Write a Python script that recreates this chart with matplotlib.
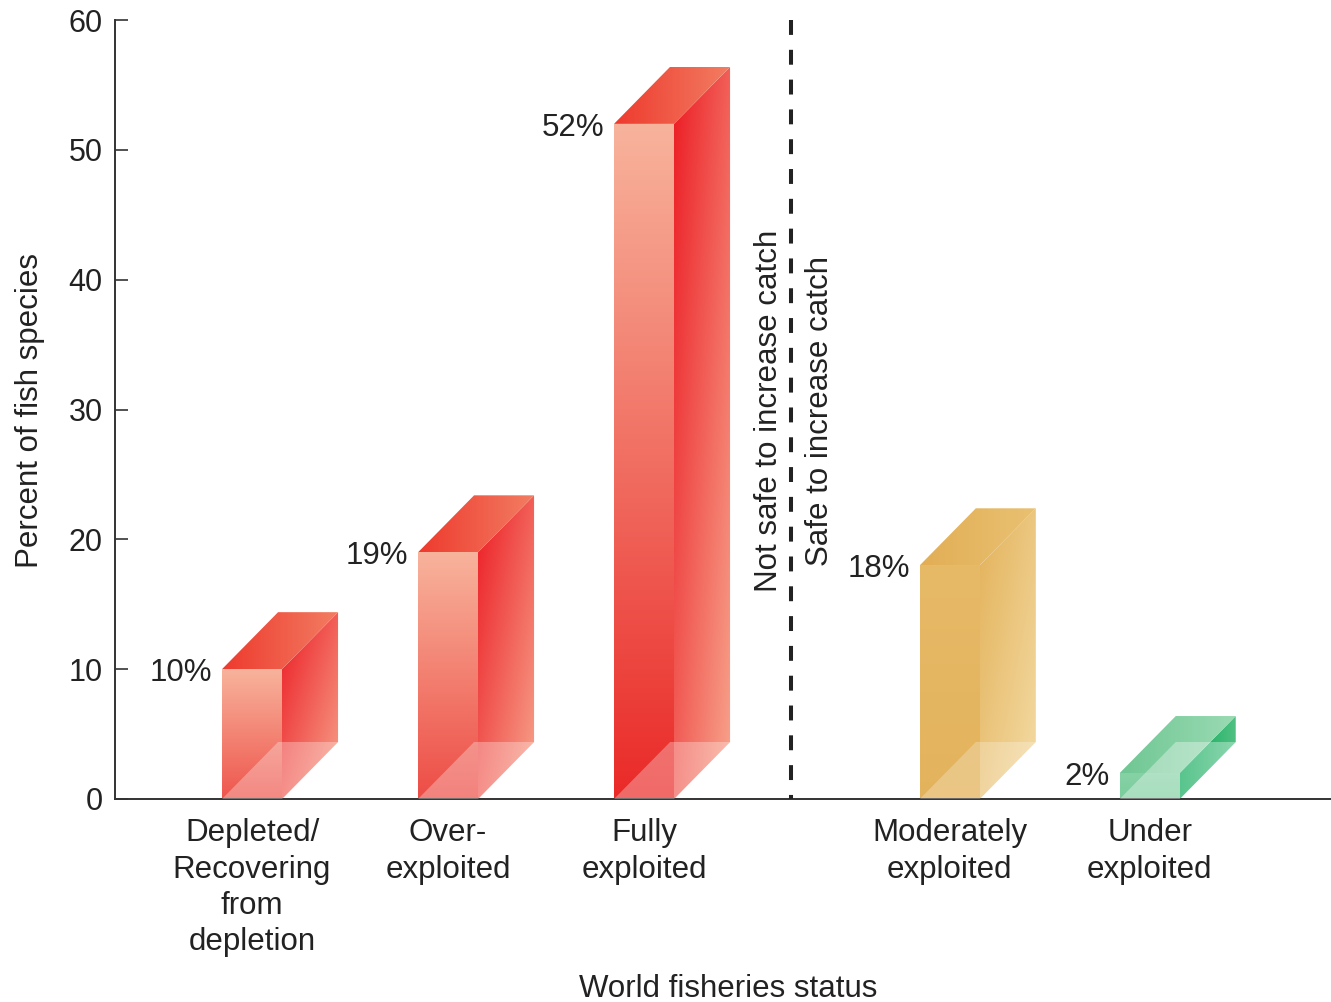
import numpy as np
import matplotlib
matplotlib.use("Agg")
import matplotlib.pyplot as plt
from matplotlib.patches import Polygon
from matplotlib.colors import to_rgb

# --- DATA ---
categories = ["Depleted/\nRecovering\nfrom\ndepletion", "Over-\nexploited", "Fully\nexploited",
              "Moderately\nexploited", "Under\nexploited"]
percents = [10, 19, 52, 18, 2]
value_labels = ["10%", "19%", "52%", "18%", "2%"]
groups = ["red", "red", "red", "yellow", "green"]

# --- LAYOUT ---
positions = [0.0, 1.0, 2.0, 3.56, 4.58]
divider_x = 2.75
bar_w = 0.306
depth_dx = 0.286
depth_dy = 4.39

# colour sets: front (top, bottom), side, top face, floor highlight alpha
palette = {
    "red": dict(front=("#F8B39C", "#EA2A28"), side=("#EC1C24", "#F7A58D"), side_mode="diagonal",
                top=("#EE3A2E", "#F27D62"), floor=0.3),
    "yellow": dict(front=("#E7BA68", "#E2B058"), side=("#E3B25A", "#F4DCA6"), side_mode="diagonal",
                   top=("#E2AE55", "#E9C172"), floor=0.25),
    "green": dict(front=("#86D2A6", "#72C995"), side=("#00A651", "#52C184"), side_mode="horizontal",
                  top=("#6FC793", "#9BDAB4"), floor=0.35),
}


def gradient_fill(ax, verts, c0, c1, mode):
    verts = np.array(verts)
    xmin, ymin = verts.min(axis=0)
    xmax, ymax = verts.max(axis=0)
    n = 100
    u, v = np.meshgrid(np.linspace(0, 1, n), np.linspace(0, 1, n))
    if mode == "vertical":      # c0 at top, c1 at bottom
        t = 1 - v
    elif mode == "diagonal":    # c0 top-left, c1 bottom-right
        t = (u + (1 - v)) / 2
    else:                       # horizontal, c0 left
        t = u
    a, b = np.array(to_rgb(c0)), np.array(to_rgb(c1))
    img = a[None, None, :] * (1 - t[..., None]) + b[None, None, :] * t[..., None]
    patch = Polygon(verts, closed=True, facecolor="none", edgecolor="none")
    ax.add_patch(patch)
    im = ax.imshow(img, extent=(xmin, xmax, ymin, ymax), origin="lower",
                   aspect="auto", interpolation="bilinear", zorder=2)
    im.set_clip_path(patch)


def mix(c0, c1, f):
    a, b = np.array(to_rgb(c0)), np.array(to_rgb(c1))
    return tuple(a * (1 - f) + b * f)


def draw_box(ax, xc, h, style, hmax):
    x0, x1 = xc - bar_w / 2, xc + bar_w / 2
    dx, dy = depth_dx, depth_dy
    front = [(x0, 0), (x1, 0), (x1, h), (x0, h)]
    side = [(x1, 0), (x1 + dx, dy), (x1 + dx, h + dy), (x1, h)]
    top = [(x0, h), (x1, h), (x1 + dx, h + dy), (x0 + dx, h + dy)]
    floor = [(x0, 0), (x1, 0), (x1 + dx, dy), (x0 + dx, dy)]
    ftop, fbot = style["front"]
    fbot = mix(ftop, fbot, 0.6 + 0.4 * h / hmax)
    gradient_fill(ax, front, ftop, fbot, "vertical")
    gradient_fill(ax, side, *style["side"], style["side_mode"])
    gradient_fill(ax, top, *style["top"], "horizontal")
    ax.add_patch(Polygon(floor, closed=True, facecolor="white", alpha=style["floor"],
                         edgecolor="none", zorder=3))


plt.rcParams["font.family"] = ["Liberation Sans", "DejaVu Sans"]
FS = 22.5
TXT = "#222222"

fig = plt.figure(figsize=(13.31, 10.02), dpi=100)
ax = fig.add_axes([115 / 1331, 203 / 1002, 1216 / 1331, 779 / 1002])

hmax = max(percents)
for xc, h, g, lab in zip(positions, percents, groups, value_labels):
    draw_box(ax, xc, h, palette[g], hmax)
    ax.text(xc - bar_w / 2 - 0.05, h - 0.3, lab, ha="right", va="center", fontsize=FS, color=TXT)

ax.plot([divider_x, divider_x], [60, 0], color="#222222", lw=2.9, dashes=(3.7, 3.7), zorder=4)
ax.text(divider_x - 0.11, 29.9, "Not safe to increase catch", rotation=90, ha="center", va="center",
        fontsize=FS, color=TXT)
ax.text(divider_x + 0.15, 29.9, "Safe to increase catch", rotation=90, ha="center", va="center",
        fontsize=FS, color=TXT)

ax.set_xlim(-0.699, 5.505)
ax.set_ylim(0, 60)
ax.set_yticks(np.arange(0, 61, 10))
ax.set_xticks(positions)
ax.set_xticklabels(categories, fontsize=FS, color=TXT, linespacing=1.27)
ax.tick_params(axis="x", length=0, pad=14)
ax.tick_params(axis="y", direction="in", length=9, width=1.2, pad=9, labelsize=22,
               labelcolor=TXT, color="#333333")

for s in ["top", "right"]:
    ax.spines[s].set_visible(False)
for s in ["left", "bottom"]:
    ax.spines[s].set_color("#333333")
    ax.spines[s].set_linewidth(1.4)

ax.set_ylabel("Percent of fish species", fontsize=FS, color=TXT)
ax.yaxis.set_label_coords(-(115 - 30) / 1216, (799 - 410) / 779)
ax.yaxis.label.set_va("center")
ax.set_xlabel("World fisheries status", fontsize=FS, color=TXT)
ax.xaxis.set_label_coords((728 - 115) / 1216, -(989 - 799) / 779)
ax.xaxis.label.set_va("center")

fig.savefig("out.png", dpi=100)
